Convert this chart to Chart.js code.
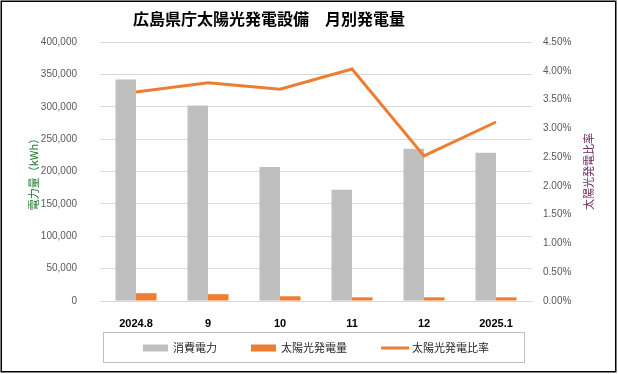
<!DOCTYPE html>
<html>
<head>
<meta charset="utf-8">
<script src="https://cdn.jsdelivr.net/npm/chart.js@4.4.1/dist/chart.umd.min.js"></script>
<style>
  html, body { margin: 0; padding: 0; background: #fff; }
  canvas { display: block; }
</style>
</head>
<body>
<canvas id="chart" width="618" height="374"></canvas>
<script>
// 月別データ
const months = ["2024.8", "9", "10", "11", "12", "2025.1"];
const consumption = [342000, 302000, 207000, 172000, 235000, 229000]; // 消費電力 kWh
const solar = [12000, 10500, 7300, 5700, 5700, 5700];                // 太陽光発電量 kWh
const ratio = [3.63, 3.79, 3.68, 4.03, 2.52, 3.11];                  // 太陽光発電比率 %

const chartTitle = "広島県庁太陽光発電設備　月別発電量";
const leftTitle = "電力量（kWh）";
const rightTitle = "太陽光発電比率";

const GRAY = "#BFBFBF";
const ORANGE = "#ED7D31";
const JP = "'Noto Sans CJK JP', sans-serif";

Chart.defaults.font.family = "'Liberation Sans', 'Noto Sans CJK JP', sans-serif";
Chart.defaults.color = "#595959";

// タイトル・軸タイトル・凡例・枠線
const decorations = {
    id: "decorations",
    afterDraw(chart) {
        const ctx = chart.ctx;
        const area = chart.chartArea;
        ctx.save();

        // 外枠
        ctx.strokeStyle = "#000";
        ctx.lineWidth = 1.5;
        ctx.strokeRect(1.25, 1.25, 614.5, 370.5);

        // タイトル
        ctx.fillStyle = "#000";
        ctx.font = "bold 16px " + JP;
        ctx.textAlign = "center";
        ctx.textBaseline = "middle";
        ctx.fillText(chartTitle, 269, 19);

        const midY = (area.top + area.bottom) / 2;

        // 左軸タイトル
        ctx.save();
        ctx.translate(34, midY);
        ctx.rotate(-Math.PI / 2);
        ctx.font = "11px " + JP;
        ctx.fillStyle = "#1F7A30";
        ctx.fillText(leftTitle, 0, 0);
        ctx.restore();

        // 右軸タイトル
        ctx.save();
        ctx.translate(589, midY);
        ctx.rotate(-Math.PI / 2);
        ctx.font = "11px " + JP;
        ctx.fillStyle = "#6B2A5E";
        ctx.fillText(rightTitle, 0, 0);
        ctx.restore();

        // 凡例
        const ds = chart.data.datasets;
        const items = [ds[1], ds[2], ds[0]];
        ctx.font = "11px " + JP;
        const widths = items.map(d => (d.type === "line" ? 28 + 3 : 25 + 5) + ctx.measureText(d.label).width);
        const total = widths.reduce((a, b) => a + b, 0) + 34 * (items.length - 1);
        let x = (area.left + area.right) / 2 - total / 2;
        const ly = 348;
        ctx.strokeStyle = "#BFBFBF";
        ctx.lineWidth = 1;
        ctx.strokeRect(area.left + 3.5, 332.5, area.right - area.left - 11, 30);
        ctx.textAlign = "left";
        items.forEach((d, i) => {
            if (d.type === "line") {
                ctx.strokeStyle = d.borderColor;
                ctx.lineWidth = 3;
                ctx.beginPath();
                ctx.moveTo(x, ly);
                ctx.lineTo(x + 28, ly);
                ctx.stroke();
                ctx.fillStyle = "#262626";
                ctx.fillText(d.label, x + 31, ly);
            } else {
                ctx.fillStyle = d.backgroundColor;
                ctx.fillRect(x, ly - 3.5, 25, 7);
                ctx.fillStyle = "#262626";
                ctx.fillText(d.label, x + 30, ly);
            }
            x += widths[i] + 34;
        });

        ctx.restore();
    }
};

new Chart(document.getElementById("chart"), {
    type: "bar",
    data: {
        labels: months,
        datasets: [
            {
                type: "line",
                label: "太陽光発電比率",
                data: ratio,
                yAxisID: "y1",
                borderColor: ORANGE,
                backgroundColor: ORANGE,
                borderWidth: 3,
                pointRadius: 0,
                tension: 0,
                order: 0
            },
            {
                label: "消費電力",
                data: consumption,
                yAxisID: "y",
                backgroundColor: GRAY,
                categoryPercentage: 0.57,
                barPercentage: 1.0,
                order: 1
            },
            {
                label: "太陽光発電量",
                data: solar,
                yAxisID: "y",
                backgroundColor: ORANGE,
                categoryPercentage: 0.57,
                barPercentage: 1.0,
                order: 1
            }
        ]
    },
    options: {
        responsive: false,
        animation: false,
        layout: { padding: { top: 42, left: 0, right: 0, bottom: 0 } },
        plugins: {
            legend: { display: false },
            title: { display: false },
            tooltip: { enabled: false }
        },
        scales: {
            x: {
                grid: { display: false },
                border: { color: "#D9D9D9", width: 1 },
                ticks: {
                    color: "#000",
                    font: { size: 11, weight: "bold" },
                    padding: 8,
                    maxRotation: 0
                },
                afterFit(scale) { scale.height = 73; }
            },
            y: {
                position: "left",
                min: 0,
                max: 400000,
                grid: { color: "#D9D9D9", drawTicks: false },
                border: { display: false },
                ticks: {
                    stepSize: 50000,
                    font: { size: 10 },
                    padding: 23,
                    callback: v => v.toLocaleString("en-US")
                },
                afterFit(scale) { scale.width = 100; }
            },
            y1: {
                position: "right",
                min: 0,
                max: 4.5,
                grid: { display: false, drawTicks: false },
                border: { display: false },
                ticks: {
                    stepSize: 0.5,
                    font: { size: 10 },
                    padding: 11,
                    callback: v => v.toFixed(2) + "%"
                },
                afterFit(scale) { scale.width = 86; }
            }
        }
    },
    plugins: [decorations]
});
</script>
</body>
</html>
